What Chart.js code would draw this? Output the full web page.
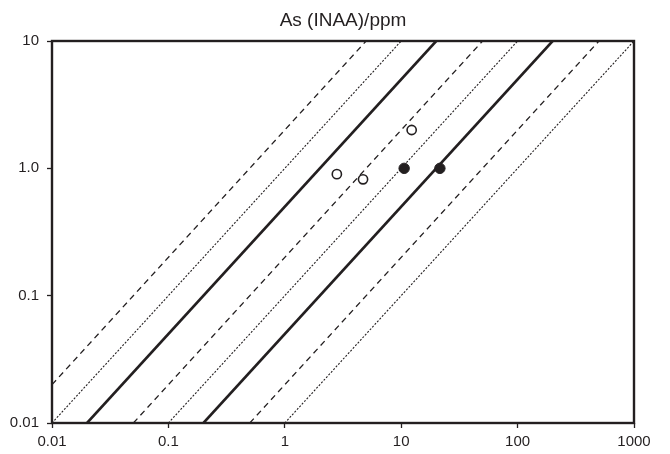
<!DOCTYPE html>
<html lang="en">
<head>
    <meta charset="UTF-8">
    <title>As (INAA)/ppm</title>
    <script src="https://cdn.jsdelivr.net/npm/chart.js"></script>
    <style>
        html, body { margin: 0; padding: 0; background: #ffffff; }
        #wrap { width: 670px; height: 454px; }
    </style>
</head>
<body>
    <div id="wrap"><canvas id="myChart" width="670" height="454"></canvas></div>
    <script>
        // tick values and their labels
        const xTicks = [0.01, 0.1, 1, 10, 100, 1000];
        const xTickLabels = ['0.01', '0.1', '1', '10', '100', '1000'];
        const yTicks = [0.01, 0.1, 1, 10];
        const yTickLabels = ['0.01', '0.1', '1.0', '10'];

        // reference lines (start and end points)
        const lineStartX = [0.01, 0.01, 0.02, 0.05, 0.1, 0.2, 0.5, 1];
        const lineStartY = [0.02, 0.01, 0.01, 0.01, 0.01, 0.01, 0.01, 0.01];
        const lineEndX = [5, 10, 20, 50, 100, 200, 500, 1000];
        const lineEndY = [10, 10, 10, 10, 10, 10, 10, 10];
        const lineKind = ['dashed', 'dotted', 'solid', 'dashed', 'dotted', 'solid', 'dashed', 'dotted'];

        // samples
        const openX = [2.8, 4.7, 12.3];
        const openY = [0.9, 0.82, 2.0];
        const filledX = [10.6, 21.5];
        const filledY = [1.0, 1.0];

        const ink = '#231f20';

        function toPoints(xs, ys) {
            return xs.map((x, i) => ({ x: x, y: ys[i] }));
        }

        const lineStyles = {
            solid: { borderWidth: 2.6, borderDash: [] },
            dashed: { borderWidth: 1.3, borderDash: [6, 4.5] },
            dotted: { borderWidth: 1.1, borderDash: [2, 1.6] }
        };

        let datasets = [];
        datasets.push({
            label: 'filled',
            data: toPoints(filledX, filledY),
            pointRadius: 5.2,
            pointBackgroundColor: ink,
            pointBorderColor: ink,
            pointBorderWidth: 1,
            showLine: false,
            order: 0
        });
        datasets.push({
            label: 'open',
            data: toPoints(openX, openY),
            pointRadius: 4.6,
            pointBackgroundColor: '#ffffff',
            pointBorderColor: ink,
            pointBorderWidth: 1.6,
            showLine: false,
            order: 0
        });
        for (let i = 0; i < lineStartX.length; i++) {
            const st = lineStyles[lineKind[i]];
            datasets.push({
                label: 'line' + i,
                data: [{ x: lineStartX[i], y: lineStartY[i] }, { x: lineEndX[i], y: lineEndY[i] }],
                showLine: true,
                borderColor: ink,
                borderWidth: st.borderWidth,
                borderDash: st.borderDash,
                pointRadius: 0,
                fill: false,
                order: 1
            });
        }

        // frame and title drawn by hand
        const framePlugin = {
            id: 'frame',
            afterDraw(chart) {
                const c = chart.ctx;
                const a = chart.chartArea;
                c.save();
                c.strokeStyle = ink;
                c.lineWidth = 2.4;
                c.strokeRect(a.left, a.top, a.right - a.left, a.bottom - a.top);
                c.fillStyle = ink;
                c.font = '19px "Liberation Sans", Arial, sans-serif';
                c.textAlign = 'center';
                c.textBaseline = 'middle';
                c.fillText('As (INAA)/ppm', (a.left + a.right) / 2, 21);
                c.restore();
            }
        };

        const ctx = document.getElementById('myChart').getContext('2d');
        const myChart = new Chart(ctx, {
            type: 'scatter',
            data: { datasets: datasets },
            plugins: [framePlugin],
            options: {
                responsive: false,
                animation: false,
                layout: { padding: { top: 41, right: 36, left: 0, bottom: 0 } },
                plugins: {
                    legend: { display: false },
                    tooltip: { enabled: false },
                    title: { display: false }
                },
                scales: {
                    x: {
                        type: 'logarithmic',
                        min: 0.01,
                        max: 1000,
                        border: { display: false },
                        grid: { drawOnChartArea: false, tickLength: 5, tickColor: ink, tickWidth: 1.3 },
                        afterBuildTicks: function(scale) {
                            scale.ticks = xTicks.map(v => ({ value: v }));
                        },
                        afterFit: function(scale) { scale.height = 31; },
                        ticks: {
                            color: ink,
                            padding: 5,
                            maxRotation: 0,
                            autoSkip: false,
                            font: { family: '"Liberation Sans", Arial, sans-serif', size: 15 },
                            callback: function(value) {
                                const i = xTicks.indexOf(value);
                                return i >= 0 ? xTickLabels[i] : '';
                            }
                        }
                    },
                    y: {
                        type: 'logarithmic',
                        min: 0.01,
                        max: 10,
                        border: { display: false },
                        grid: { drawOnChartArea: false, tickLength: 5, tickColor: ink, tickWidth: 1.3 },
                        afterBuildTicks: function(scale) {
                            scale.ticks = yTicks.map(v => ({ value: v }));
                        },
                        afterFit: function(scale) { scale.width = 52; },
                        ticks: {
                            color: ink,
                            padding: 8,
                            autoSkip: false,
                            font: { family: '"Liberation Sans", Arial, sans-serif', size: 15 },
                            callback: function(value) {
                                const i = yTicks.indexOf(value);
                                return i >= 0 ? yTickLabels[i] : '';
                            }
                        }
                    }
                }
            }
        });
    </script>
</body>
</html>
